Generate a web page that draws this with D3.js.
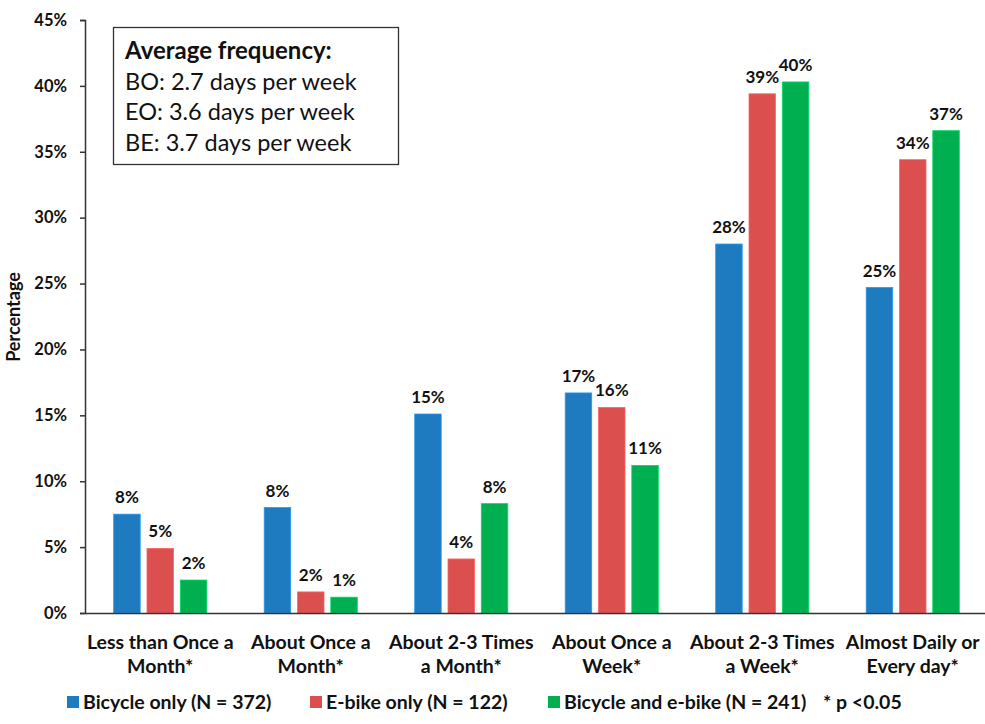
<!DOCTYPE html>
<html>
<head>
<meta charset="utf-8">
<script src="https://cdn.jsdelivr.net/npm/d3@7"></script>
<style>
  html, body { margin: 0; padding: 0; background: #fff; }
  svg { display: block; font-family: Lato, "Open Sans", sans-serif; }
</style>
</head>
<body>
<svg id="chart" width="985" height="724"></svg>
<script>
const categories = [
  ["Less than Once a", "Month*"],
  ["About Once a", "Month*"],
  ["About 2-3 Times", "a Month*"],
  ["About Once a", "Week*"],
  ["About 2-3 Times", "a Week*"],
  ["Almost Daily or", "Every day*"]
];
const seriesNames = ["Bicycle only (N = 372)", "E-bike only (N = 122)", "Bicycle and e-bike (N = 241)"];
const bicycleOnly = [7.5, 8.0, 15.1, 16.7, 28.0, 24.7];
const ebikeOnly = [4.9, 1.6, 4.1, 15.6, 39.4, 34.4];
const bicycleAndEbike = [2.5, 1.2, 8.3, 11.2, 40.3, 36.6];
const valueLabels = [
  ["8%", "8%", "15%", "17%", "28%", "25%"],
  ["5%", "2%", "4%", "16%", "39%", "34%"],
  ["2%", "1%", "8%", "11%", "40%", "37%"]
];
const yTicks = [0, 5, 10, 15, 20, 25, 30, 35, 40, 45];
const colors = ["#1f7bbf", "#db504e", "#00b050"];
const boxTitle = "Average frequency:";
const boxLines = ["BO: 2.7 days per week", "EO: 3.6 days per week", "BE: 3.7 days per week"];
const noteText = "* p <0.05";

const series = [bicycleOnly, ebikeOnly, bicycleAndEbike];
const svg = d3.select("#chart");

const x0 = d3.scaleBand().domain(d3.range(categories.length)).range([85, 988]).padding(0);
const x1 = d3.scaleBand().domain(d3.range(series.length)).range([0, x0.bandwidth()])
  .paddingInner(0.204).paddingOuter(0.862);
const y = d3.scaleLinear().domain([0, 45]).range([613, 20]);

// bars
series.forEach((vals, si) => {
  svg.append("g").selectAll("rect").data(vals).join("rect")
    .attr("x", (d, i) => x0(i) + x1(si))
    .attr("y", d => y(d))
    .attr("width", x1.bandwidth())
    .attr("height", d => y(0) - y(d))
    .attr("fill", colors[si])
    .attr("stroke", d3.color(colors[si]).brighter(0.6))
    .attr("stroke-width", 0.8);
  svg.append("g").selectAll("text").data(vals).join("text")
    .attr("x", (d, i) => x0(i) + x1(si) + x1.bandwidth() / 2)
    .attr("y", d => y(d) - 11)
    .attr("text-anchor", "middle")
    .attr("font-size", 17)
    .attr("font-weight", "bold")
    .attr("fill", "#111")
    .text((d, i) => valueLabels[si][i]);
});

// y axis
const yAxis = d3.axisLeft(y).tickValues(yTicks).tickFormat(d => d + "%").tickSize(5).tickPadding(13);
const gy = svg.append("g").attr("transform", "translate(85,0)").call(yAxis);
gy.select(".domain").attr("stroke", "#333").attr("stroke-width", 1.5);
gy.selectAll(".tick line").attr("stroke", "#333").attr("stroke-width", 1.5);
gy.selectAll(".tick text").attr("font-size", 16.5).attr("font-weight", "bold").attr("fill", "#111")
  .attr("font-family", "Lato, sans-serif");

// x axis baseline
const xAxis = d3.axisBottom(x0).tickSize(0).tickFormat("");
const gx = svg.append("g").attr("transform", `translate(0,${y(0)})`).call(xAxis);
gx.select(".domain").attr("stroke", "#333").attr("stroke-width", 1.5);

// category labels
categories.forEach((lines, i) => {
  const t = svg.append("text")
    .attr("x", x0(i) + x0.bandwidth() / 2)
    .attr("y", 649)
    .attr("text-anchor", "middle")
    .attr("font-size", 19.5)
    .attr("font-weight", "bold")
    .attr("fill", "#111");
  lines.forEach((l, k) => {
    t.append("tspan").attr("x", x0(i) + x0.bandwidth() / 2).attr("dy", k === 0 ? 0 : 24).text(l);
  });
});

// y title
svg.append("text")
  .attr("transform", "translate(20,317) rotate(-90)")
  .attr("text-anchor", "middle")
  .attr("font-size", 18)
  .attr("font-weight", "bold")
  .attr("fill", "#111")
  .text("Percentage");

// info box
svg.append("rect").attr("x", 113.5).attr("y", 27.5).attr("width", 285).attr("height", 137)
  .attr("fill", "#fff").attr("stroke", "#333").attr("stroke-width", 1.3);
svg.append("text").attr("x", 125).attr("y", 59).attr("font-size", 24).attr("font-weight", "bold")
  .attr("fill", "#111").text(boxTitle);
boxLines.forEach((l, k) => {
  svg.append("text").attr("x", 125).attr("y", 90 + k * 30.3).attr("font-size", 23.5)
    .attr("fill", "#111").text(l);
});

// legend
const legendX = [67, 310, 548];
seriesNames.forEach((n, i) => {
  svg.append("rect").attr("x", legendX[i]).attr("y", 696).attr("width", 12).attr("height", 12)
    .attr("fill", colors[i]);
  svg.append("text").attr("x", legendX[i] + 16).attr("y", 709).attr("font-size", 19.5)
    .attr("font-weight", "bold").attr("fill", "#111").text(n);
});
svg.append("text").attr("x", 823).attr("y", 709).attr("font-size", 19.5)
  .attr("font-weight", "bold").attr("fill", "#111").text(noteText);
</script>
</body>
</html>
